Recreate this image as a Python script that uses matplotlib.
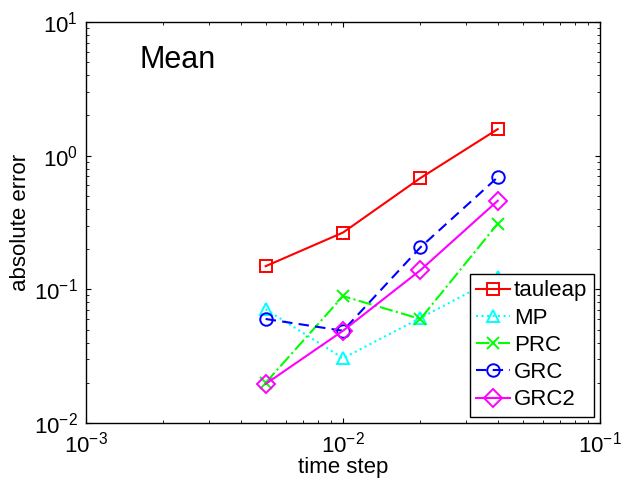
import matplotlib
matplotlib.use("Agg")
import matplotlib.pyplot as plt

plt.rcParams['font.family'] = ['Liberation Sans', 'DejaVu Sans']
plt.rcParams['mathtext.fontset'] = 'custom'
plt.rcParams['mathtext.rm'] = 'Liberation Sans'
plt.rcParams['mathtext.it'] = 'Liberation Sans'
plt.rcParams['axes.linewidth'] = 1.0

# time steps
dt = [0.005, 0.01, 0.02, 0.04]

# absolute errors for each method
tauleap = [0.149, 0.266, 0.68, 1.58]
mp = [0.071, 0.0305, 0.061, 0.123]
prc = [0.020, 0.089, 0.060, 0.31]
grc = [0.060, 0.049, 0.206, 0.69]
grc2 = [0.0196, 0.049, 0.139, 0.46]

fig = plt.figure(figsize=(6.21, 4.88), dpi=100)
ax = fig.add_axes([0.1385, 0.1332, 0.8277, 0.8217])

mk = dict(markersize=9, markerfacecolor="none", markeredgewidth=1.4, linewidth=1.5)
ax.loglog(dt, tauleap, color="red", marker="s", linestyle="-", label="tauleap", **mk)
ax.loglog(dt, mp, color="cyan", marker="^", linestyle=":", label="MP", **mk)
ax.loglog(dt, prc, color="#00ff00", marker="x", linestyle="-.", label="PRC", **mk)
ax.loglog(dt, grc, color="blue", marker="o", linestyle=(0, (5, 3)), label="GRC", **mk)
ax.loglog(dt, grc2, color="magenta", marker="D", linestyle="-", label="GRC2", **mk)

ax.set_xlim(1e-3, 1e-1)
ax.set_ylim(1e-2, 1e1)
ax.set_xlabel("time step", fontsize=16, labelpad=0)
ax.set_ylabel("absolute error", fontsize=16, labelpad=2)
ax.tick_params(which="both", direction="in", top=True, right=True, labelsize=16)
ax.tick_params(which="major", length=3.5, pad=6)
ax.tick_params(which="minor", length=2)

ax.text(1.62e-3, 4.5, "Mean", fontsize=22)

leg = ax.legend(loc="lower right", fontsize=16, fancybox=False, framealpha=1,
                edgecolor="black", handlelength=1.5, borderpad=0.3,
                labelspacing=0.28, handletextpad=0.2, borderaxespad=0.27)
leg.get_frame().set_linewidth(1.0)

fig.savefig("out.png", dpi=100)
